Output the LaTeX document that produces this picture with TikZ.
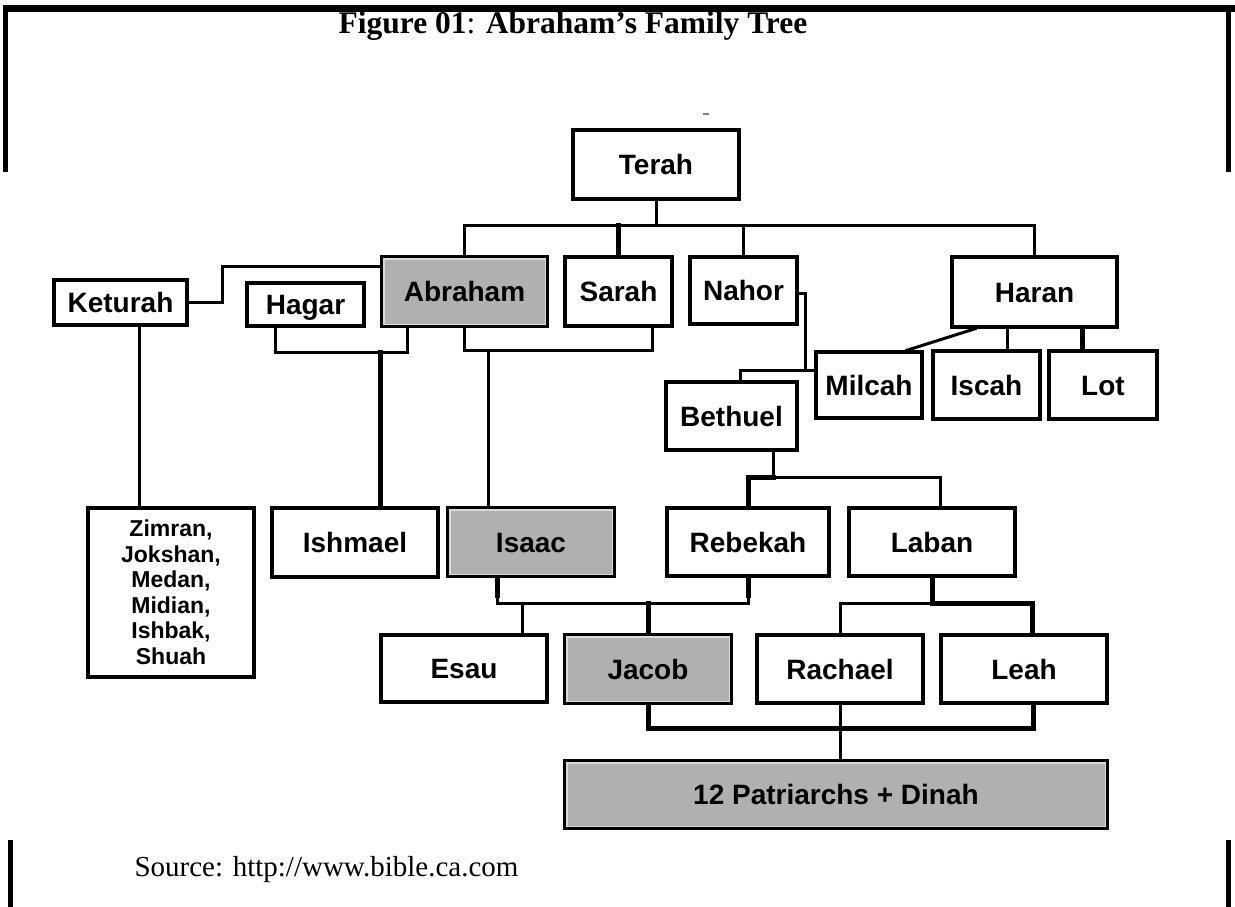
\documentclass[tikz,border=0pt]{standalone}
\usepackage{fontspec}
\setmainfont{Liberation Serif}
\newfontfamily\boxfont{Liberation Sans}
\usetikzlibrary{calc}
\definecolor{boxgray}{RGB}{176,176,176}
\definecolor{insetgray}{RGB}{218,218,218}
\tikzset{
  boxbase/.style={draw=black, line width=3.5pt, fill=white, inner sep=0pt, align=center,
    font=\boxfont\bfseries\fontsize{28}{30}\selectfont},
  person/.style={boxbase, text height=20pt, text depth=0pt},
  keyperson/.style={person, fill=boxgray},
  conn/.style={draw=black, line width=3pt, line cap=rect, line join=miter},
  heavyconn/.style={conn, line width=5pt},
  inset/.style={draw=insetgray, line width=1.5pt},
  framebar/.style={fill=black, draw=none},
}
\begin{document}
\begin{tikzpicture}[x=1pt,y=-1pt]
\useasboundingbox (0,0) rectangle (1235,907);
% frame
\fill[framebar] (3,5) rectangle (1235,12);
\fill[framebar] (3,5) rectangle (8,172);
\fill[framebar] (1226,5) rectangle (1231,172);
\fill[framebar] (8,840) rectangle (13,907);
\fill[framebar] (1226,840) rectangle (1231,907);
\draw[gray, line width=1.5pt] (703,114) -- (709,114);
% title and source
\node[anchor=base, font=\fontsize{31.5}{34}\selectfont] (title) at (573,34)
  {\textbf{Figure 01}: \textbf{Abraham’s Family Tree}};
\node[anchor=base west, font=\fontsize{29}{32}\selectfont] (source) at (131,876)
  {Source: http://www.bible.ca.com};
% people
\node[person, minimum width=166pt, minimum height=69pt] (Terah) at (656,164.5) {Terah};
\node[keyperson, minimum width=165pt, minimum height=69pt] (Abraham) at (464.5,291.5) {Abraham};
\node[person, minimum width=107pt, minimum height=69pt] (Sarah) at (618.5,291.5) {Sarah};
\node[person, minimum width=107pt, minimum height=67pt] (Nahor) at (743.5,290.5) {Nahor};
\node[person, minimum width=165pt, minimum height=70pt] (Haran) at (1034.5,292) {Haran};
\node[person, minimum width=133pt, minimum height=45pt] (Keturah) at (120.5,302.5) {Keturah};
\node[person, minimum width=117pt, minimum height=43pt] (Hagar) at (305.5,304.5) {Hagar};
\node[person, minimum width=106pt, minimum height=66pt] (Milcah) at (869,385) {Milcah};
\node[person, minimum width=107pt, minimum height=68pt] (Iscah) at (986.5,385) {Iscah};
\node[person, minimum width=108pt, minimum height=68pt] (Lot) at (1103,385) {Lot};
\node[person, minimum width=131pt, minimum height=68pt] (Bethuel) at (731.5,416) {Bethuel};
\node[boxbase, minimum width=166pt, minimum height=169pt,
  font=\boxfont\bfseries\fontsize{23}{25.5}\selectfont] (Zimran) at (171,592.5)
  {Zimran,\\Jokshan,\\Medan,\\Midian,\\Ishbak,\\Shuah};
\node[person, minimum width=166pt, minimum height=69pt] (Ishmael) at (355,542.5) {Ishmael};
\node[keyperson, minimum width=166pt, minimum height=68pt] (Isaac) at (531,542) {Isaac};
\node[person, minimum width=162pt, minimum height=68pt] (Rebekah) at (748,542) {Rebekah};
\node[person, minimum width=166pt, minimum height=68pt] (Laban) at (932,542) {Laban};
\node[person, minimum width=166pt, minimum height=67pt] (Esau) at (464,668.5) {Esau};
\node[keyperson, minimum width=166pt, minimum height=68pt] (Jacob) at (648,669) {Jacob};
\node[person, minimum width=166pt, minimum height=68pt] (Rachael) at (840,669) {Rachael};
\node[person, minimum width=166pt, minimum height=68pt] (Leah) at (1024,669) {Leah};
\node[keyperson, minimum width=542pt, minimum height=67pt] (Patr) at (836,794.5) {12 Patriarchs + Dinah};
% light inner rims of the grey boxes
\foreach \n in {Abraham,Isaac,Jacob,Patr}
  \draw[inset] ([shift={(3.5pt,-3.5pt)}]\n.north west) rectangle ([shift={(-3.5pt,3.5pt)}]\n.south east);
% Terah's children
\coordinate (bus) at (656,225);
\draw[conn] (Terah.south) -- (bus);
\draw[conn] (Abraham.north) |- (bus) -| (Haran.north);
\draw[heavyconn] (Sarah.north) -- (Sarah.north |- bus);
\draw[conn] (Nahor.north) -- (Nahor.north |- bus);
% Keturah
\draw[conn] (Keturah.east) -- ++(34,0) |- ([yshift=-11pt]Abraham.north west);
\draw[conn] ([xshift=18.5pt]Keturah.south) -- ([xshift=18.5pt]Keturah.south |- Zimran.north);
% Hagar and Abraham -> Ishmael
\coordinate (hagbar) at (380,352);
\draw[conn] ([xshift=-30.5pt]Hagar.south) |- (hagbar) -| ([xshift=-57.5pt]Abraham.south);
\draw[heavyconn] (hagbar) -- (hagbar |- Ishmael.north);
% Abraham and Sarah -> Isaac
\coordinate (asbar) at (488,350);
\draw[conn] (Abraham.south) |- (asbar) -| ([xshift=33.5pt]Sarah.south);
\draw[conn] (asbar) -- (asbar |- Isaac.north);
% Nahor -> Milcah, Bethuel
\coordinate (nj) at (805,370);
\draw[conn] ([yshift=-2.5pt]Nahor.east) -| (nj);
\draw[conn] ([xshift=8.5pt]Bethuel.north) |- ([yshift=15pt]Milcah.west);
% Haran -> Milcah, Iscah, Lot
\draw[conn] ([xshift=-59.5pt]Haran.south) -- ([xshift=38pt]Milcah.north);
\draw[conn] ([xshift=20.5pt]Iscah.north) -- ([xshift=20.5pt]Iscah.north |- Haran.south);
\draw[heavyconn] ([xshift=-21pt]Lot.north) -- ([xshift=-21pt]Lot.north |- Haran.south);
% Bethuel -> Rebekah, Laban
\coordinate (bb) at (773,477);
\draw[conn] ([xshift=41.5pt]Bethuel.south) -- (bb);
\draw[heavyconn] (Rebekah.north) |- (bb);
\draw[conn] (bb) -| ([xshift=8pt]Laban.north);
% Isaac and Rebekah -> Esau, Jacob
\coordinate (ir) at (648,603);
\draw[conn] ([xshift=-34pt]Isaac.south) |- (ir) -| (Rebekah.south);
\draw[heavyconn] ([xshift=-34pt]Isaac.south) -- ++(0,18);
\draw[heavyconn] (Rebekah.south) -- ++(0,18);
\draw[heavyconn] (ir) -- (Jacob.north);
\draw[conn] ([xshift=58pt]Esau.north) -- ([xshift=58pt]Esau.north |- ir);
% Laban -> Rachael, Leah
\coordinate (lb) at (932,603);
\draw[heavyconn] (Laban.south) -- (lb);
\draw[conn] (Rachael.north) |- (lb);
\draw[heavyconn] (lb) -| ([xshift=8pt]Leah.north);
% Jacob, Rachael, Leah -> 12 Patriarchs
\coordinate (jb) at (840,728);
\draw[heavyconn] (Jacob.south) |- (jb) -| ([xshift=9pt]Leah.south);
\draw[conn] (Rachael.south) -- (Rachael.south |- Patr.north);
\end{tikzpicture}
\end{document}
